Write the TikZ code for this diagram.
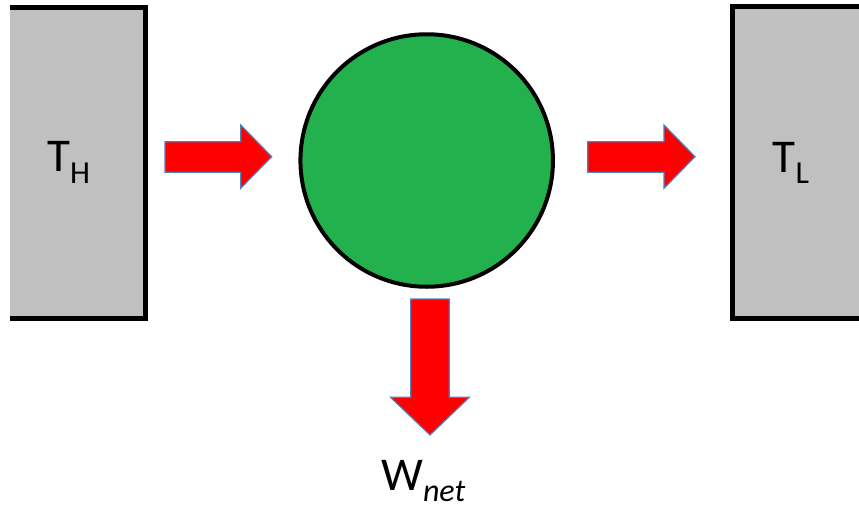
\documentclass[tikz,border=0pt]{standalone}
\usepackage{fontspec}
\setmainfont{Carlito}
\definecolor{boxgray}{RGB}{192,192,192}
\definecolor{enginegreen}{RGB}{34,177,76}
\definecolor{arrowred}{RGB}{255,0,0}
\definecolor{arrowedge}{RGB}{79,129,189}
\begin{document}
\begin{tikzpicture}[x=1pt,y=-1pt,
  reservoir/.style={fill=boxgray},
  border/.style={line width=5pt, draw=black},
  blockarrow/.style={fill=arrowred, draw=arrowedge, line width=1.2pt, line join=miter},
  lbl/.style={inner sep=0pt, anchor=base west, font=\fontsize{47}{52}\selectfont},
  sub/.style={}]
\useasboundingbox (0,0) rectangle (859,506);
% hot reservoir
\fill[reservoir] (9.5,7) rectangle (145.5,318);
\draw[border] (9.5,7) -- (145.5,7) -- (145.5,318) -- (9.5,318);
% cold reservoir
\fill[reservoir] (732.5,6.7) rectangle (865,318);
\draw[border] (865,6.7) -- (732.5,6.7) -- (732.5,318) -- (865,318);
% engine
\node[circle, draw=black, line width=4pt, fill=enginegreen, minimum size=252.5pt, inner sep=0pt] (engine) at (426.7,160.5) {};
% arrows
\draw[blockarrow] (165,141.7) -- (240.7,141.7) -- (240.7,125) -- (271.7,156.7) -- (240.7,188.3) -- (240.7,172.3) -- (165,172.3) -- cycle;
\draw[blockarrow] (587.7,141.7) -- (664,141.7) -- (664,125) -- (695,156.7) -- (664,188.3) -- (664,172.3) -- (587.7,172.3) -- cycle;
\draw[blockarrow] (410.7,299) -- (449.3,299) -- (449.3,397.3) -- (469.3,397.3) -- (430,435) -- (390.5,397.3) -- (410.7,397.3) -- cycle;
% labels
\node[lbl] (TH) at (47,171.7) {T\raisebox{-11.3pt}{\fontsize{32}{32}\selectfont H}};
\node[lbl] (TL) at (772.5,172.3) {T\raisebox{-11.5pt}{\fontsize{32}{32}\selectfont L}};
\node[lbl] (Wnet) at (381,490) {W\raisebox{-11.5pt}{\fontsize{32}{32}\selectfont\itshape net}};
\end{tikzpicture}
\end{document}
